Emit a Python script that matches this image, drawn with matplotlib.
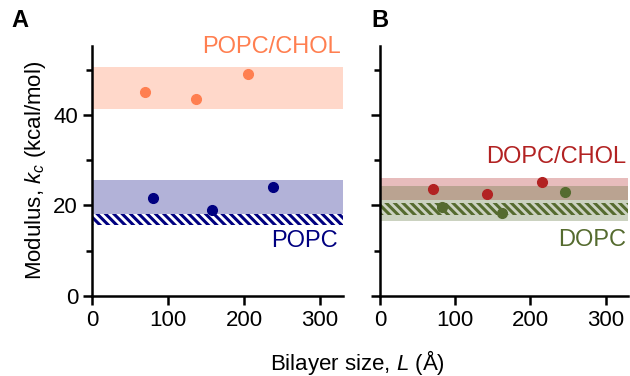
import numpy as np
import matplotlib
matplotlib.use('Agg')
import matplotlib.pyplot as plt

plt.rcParams['font.family'] = 'Liberation Sans'
plt.rcParams['mathtext.fontset'] = 'custom'
plt.rcParams['mathtext.it'] = 'Liberation Sans:italic'
plt.rcParams['mathtext.rm'] = 'Liberation Sans'
plt.rcParams['font.size'] = 16
plt.rcParams['hatch.linewidth'] = 2.2

# bilayer size (A) and modulus (kcal/mol)
popc_chol_L = [70, 137, 205]
popc_chol_k = [45.0, 43.6, 49.1]
popc_L = [80, 158, 238]
popc_k = [21.6, 19.1, 24.1]

dopc_chol_L = [71, 143, 215]
dopc_chol_k = [23.7, 22.6, 25.3]
dopc_L = [83, 163, 246]
dopc_k = [19.7, 18.4, 23.0]

# bands (low, high)
popc_chol_band = (41.3, 50.7)
popc_band = (18.2, 25.6)
popc_hatch = (15.6, 18.2)
dopc_chol_band = (21.3, 26.1)
dopc_band = (16.5, 24.3)
dopc_hatch = (18.0, 20.6)

c_popc_chol = '#FF7F50'
c_popc = '#000080'
c_dopc_chol = '#B22222'
c_dopc = '#556B2F'

fig = plt.figure(figsize=(6.3, 3.76), dpi=100)
ax1 = fig.add_axes([0.146, 0.213, 0.398, 0.665])
ax2 = fig.add_axes([0.603, 0.213, 0.394, 0.665])

for ax in [ax1, ax2]:
    ax.spines['top'].set_visible(False)
    ax.spines['right'].set_visible(False)
    ax.spines['left'].set_linewidth(1.8)
    ax.spines['bottom'].set_linewidth(1.8)
    ax.set_xlim(0, 330)
    ax.set_ylim(0, 55.3)
    ax.set_xticks([0, 100, 200, 300])
    ax.set_yticks([0, 20, 40])
    ax.set_yticks([10, 30, 50], minor=True)
    ax.tick_params(which='major', length=6.5, width=1.8)
    ax.tick_params(which='minor', length=4, width=1.8)
    ax.tick_params(axis='x', which='minor', bottom=False)

# panel A
ax1.axhspan(*popc_chol_band, color=c_popc_chol, alpha=0.3, lw=0)
ax1.axhspan(*popc_band, color=c_popc, alpha=0.3, lw=0)
ax1.axhspan(*popc_hatch, facecolor='white', edgecolor=c_popc, hatch='\\\\\\\\', lw=0)
ax1.plot(popc_chol_L, popc_chol_k, 'o', color=c_popc_chol, ms=7)
ax1.plot(popc_L, popc_k, 'o', color=c_popc, ms=7)
ax1.text(327, 55.0, 'POPC/CHOL', color=c_popc_chol, ha='right', va='center', fontsize=17)
ax1.text(324, 12.2, 'POPC', color=c_popc, ha='right', va='center', fontsize=17)
ax1.set_ylabel('Modulus, $k_c$ (kcal/mol)')

# panel B
ax2.axhspan(*dopc_chol_band, color=c_dopc_chol, alpha=0.3, lw=0)
ax2.axhspan(*dopc_band, color=c_dopc, alpha=0.3, lw=0)
ax2.axhspan(*dopc_hatch, facecolor='none', edgecolor=c_dopc, hatch='\\\\\\\\', lw=0)
ax2.plot(dopc_chol_L, dopc_chol_k, 'o', color=c_dopc_chol, ms=7)
ax2.plot(dopc_L, dopc_k, 'o', color=c_dopc, ms=7)
ax2.text(328, 30.8, 'DOPC/CHOL', color=c_dopc_chol, ha='right', va='center', fontsize=17)
ax2.text(328, 12.4, 'DOPC', color=c_dopc, ha='right', va='center', fontsize=17)
ax2.set_yticklabels([])

fig.text(0.567, 0.035, 'Bilayer size, $L$ (Å)', ha='center', va='center')
fig.text(0.018, 0.945, 'A', fontweight='bold', fontsize=17, va='center')
fig.text(0.59, 0.945, 'B', fontweight='bold', fontsize=17, va='center')

plt.savefig('out.png', dpi=100)
